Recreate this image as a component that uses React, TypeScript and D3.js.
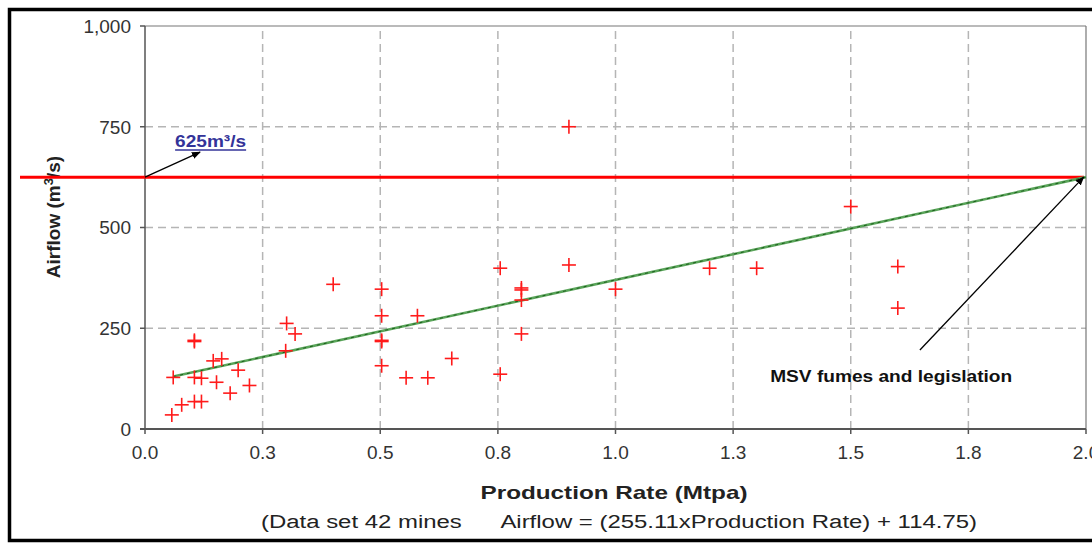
import React from 'react';
import * as d3 from 'd3';

// ---- Data ----
const productionRate = [
  0.057, 0.078, 0.105, 0.12, 0.06, 0.105, 0.12, 0.105, 0.105, 0.145, 0.163, 0.152, 0.181, 0.198,
  0.222, 0.301, 0.319, 0.299, 0.40, 0.503, 0.503, 0.503, 0.503, 0.503, 0.579, 0.555, 0.601, 0.652,
  0.755, 0.755, 0.80, 0.80, 0.80, 0.80, 0.901, 0.901, 1.0, 1.2, 1.3, 1.5, 1.6, 1.6,
];
const airflow = [
  35, 60, 68, 68, 128, 128, 126, 217, 220, 169, 174, 116, 89, 146,
  108, 262, 236, 194, 359, 347, 281, 217, 220, 157, 281, 127, 127, 175,
  399, 136, 345, 350, 320, 236, 407, 750, 347, 399, 399, 552, 403, 300,
];
const xTickValues = [0, 0.25, 0.5, 0.75, 1.0, 1.25, 1.5, 1.75, 2.0];
const xTickLabels = ['0.0', '0.3', '0.5', '0.8', '1.0', '1.3', '1.5', '1.8', '2.0'];
const yTickValues = [0, 250, 500, 750, 1000];
const yTickLabels = ['0', '250', '500', '750', '1,000'];
const regressionSlope = 255.11;
const regressionIntercept = 114.75;
const regressionRange = [0.06, 2.0];
const limitAirflow = 625;
const limitLabel = '625m³/s';
const msvLabel = 'MSV fumes and legislation';
const xTitle = 'Production Rate (Mtpa)';
const subTitle = '(Data set 42 mines      Airflow = (255.11xProduction Rate) + 114.75)';

// annotation anchors in data units
const limitArrowFrom = [0, limitAirflow];
const limitArrowTo = [0.117, 687];
const limitLabelAt = [0.064, 700];
const msvArrowFrom = [1.647, 196];
const msvArrowTo = [1.995, 625];
const msvLabelAt = [1.586, 117];

const W = 1092;
const H = 544;
const FONT = '"Liberation Sans", Arial, sans-serif';

export default function App() {
  const x = d3.scaleLinear().domain([0, 2]).range([145, 1086]);
  const y = d3.scaleLinear().domain([0, 1000]).range([429, 26]);
  const [x0, x1] = x.range();
  const [y0, y1] = y.range();

  const regLine = d3
    .line<number>()
    .x((d) => x(d))
    .y((d) => y(regressionSlope * d + regressionIntercept));

  const cross = 7;

  return (
    <svg
      width={W}
      height={H}
      style={{ position: 'absolute', left: 0, top: 0, background: '#fff' }}
      fontFamily={FONT}
    >
      <defs>
        <marker id="arr" viewBox="0 0 10 10" refX="9" refY="5" markerWidth="9" markerHeight="9" orient="auto-start-reverse" markerUnits="userSpaceOnUse">
          <path d="M0,1 L10,5 L0,9 Z" fill="#000" />
        </marker>
      </defs>
      <rect x={0} y={0} width={W} height={H} fill="#fff" />
      {/* outer frame */}
      <rect x={9.5} y={9.5} width={W + 20} height={531} fill="none" stroke="#000" strokeWidth={3.5} />

      {/* grid */}
      {yTickValues.filter((v) => v > 0 && v < 1000).map((v) => (
        <line key={'gy' + v} x1={x0} x2={x1} y1={y(v)} y2={y(v)} stroke="#b5b5b5" strokeWidth={1.5} strokeDasharray="8,5" />
      ))}
      {xTickValues.filter((v) => v > 0 && v < 2).map((v) => (
        <line key={'gx' + v} x1={x(v)} x2={x(v)} y1={y0} y2={y1} stroke="#b5b5b5" strokeWidth={1.5} strokeDasharray="8,5" />
      ))}
      {/* plot border top/right */}
      <line x1={x0} x2={x1} y1={y1} y2={y1} stroke="#777" strokeWidth={1.2} />
      <line x1={x1} x2={x1} y1={y1} y2={y0} stroke="#777" strokeWidth={1.2} />

      {/* axes */}
      <line x1={x0} x2={x0} y1={y1} y2={y0} stroke="#555" strokeWidth={1.5} />
      <line x1={x0 - 5} x2={x1} y1={y0} y2={y0} stroke="#555" strokeWidth={2} />
      {yTickValues.map((v, i) => (
        <g key={'yt' + v}>
          <line x1={x0 - 5} x2={x0} y1={y(v)} y2={y(v)} stroke="#555" strokeWidth={1.5} />
          <text x={131} y={y(v)} dy="0.36em" textAnchor="end" fontSize={19} fill="#333">
            {yTickLabels[i]}
          </text>
        </g>
      ))}
      {xTickValues.map((v, i) => (
        <g key={'xt' + v}>
          <line x1={x(v)} x2={x(v)} y1={y0} y2={y0 + 5} stroke="#555" strokeWidth={1.5} />
          <text x={x(v)} y={459} textAnchor="middle" fontSize={19} fill="#333">
            {xTickLabels[i]}
          </text>
        </g>
      ))}

      {/* axis titles */}
      <text transform={`translate(60,217) rotate(-90)`} textAnchor="middle" fontSize={19} fontWeight="bold" fill="#222">
        <tspan>Airflow (m</tspan>
        <tspan dy={-7} fontSize={13}>3</tspan>
        <tspan dy={7}>/s)</tspan>
      </text>
      <text x={614} y={499} textAnchor="middle" fontSize={19} fontWeight="bold" fill="#222" textLength={267} lengthAdjust="spacingAndGlyphs">
        {xTitle}
      </text>
      <text x={619} y={528} textAnchor="middle" fontSize={18} fill="#222" textLength={716} lengthAdjust="spacingAndGlyphs" style={{ whiteSpace: 'pre' }}>
        {subTitle}
      </text>

      {/* limit line */}
      <line x1={20} x2={x(2) - 2} y1={y(limitAirflow)} y2={y(limitAirflow)} stroke="#ff0000" strokeWidth={3} />

      {/* regression line */}
      <path d={regLine(regressionRange) || ''} fill="none" stroke="#5aa55a" strokeWidth={2.6} />
      <path d={regLine(regressionRange) || ''} fill="none" stroke="#1d5e1d" strokeWidth={1} strokeDasharray="3,4" />

      {/* points */}
      {productionRate.map((p, i) => (
        <g key={'pt' + i} stroke="#ff1a1a" strokeWidth={1.6}>
          <line x1={x(p) - cross} x2={x(p) + cross} y1={y(airflow[i])} y2={y(airflow[i])} />
          <line x1={x(p)} x2={x(p)} y1={y(airflow[i]) - cross} y2={y(airflow[i]) + cross} />
        </g>
      ))}

      {/* annotations */}
      <line
        x1={x(limitArrowFrom[0])}
        y1={y(limitArrowFrom[1])}
        x2={x(limitArrowTo[0])}
        y2={y(limitArrowTo[1])}
        stroke="#000"
        strokeWidth={1.3}
        markerEnd="url(#arr)"
      />
      <text x={x(limitLabelAt[0])} y={y(limitLabelAt[1])} fontSize={17} fontWeight="bold" fill="#333399" textLength={71} lengthAdjust="spacingAndGlyphs">
        {limitLabel}
      </text>
      <line x1={x(limitLabelAt[0])} x2={x(limitLabelAt[0]) + 71} y1={y(limitLabelAt[1]) + 3} y2={y(limitLabelAt[1]) + 3} stroke="#333399" strokeWidth={1.5} />

      <line
        x1={x(msvArrowFrom[0])}
        y1={y(msvArrowFrom[1])}
        x2={x(msvArrowTo[0])}
        y2={y(msvArrowTo[1])}
        stroke="#000"
        strokeWidth={1.3}
        markerEnd="url(#arr)"
      />
      <text x={x(msvLabelAt[0])} y={y(msvLabelAt[1])} textAnchor="middle" fontSize={16} fontWeight="bold" fill="#111" textLength={242} lengthAdjust="spacingAndGlyphs">
        {msvLabel}
      </text>
    </svg>
  );
}
